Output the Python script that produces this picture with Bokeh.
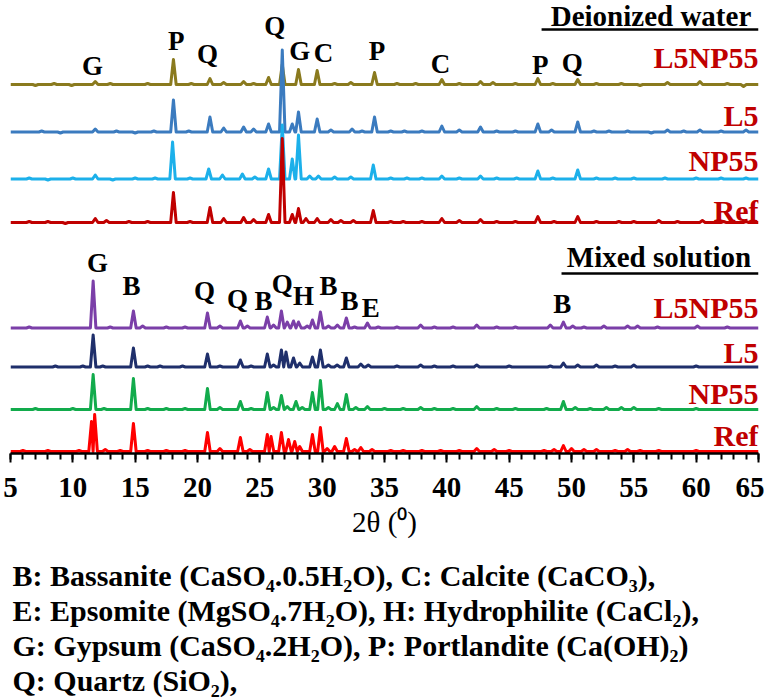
from bokeh.plotting import figure
from bokeh.models import Range1d, SingleIntervalTicker, Title
from bokeh.embed import file_html
from bokeh.resources import INLINE
from bokeh.core.properties import value

# ---------------- data (2θ in degrees, relative intensity in a.u.) ----------------
two_theta_ticks = [5, 10, 15, 20, 25, 30, 35, 40, 45, 50, 55, 60, 65]

# Deionized water
dw_L5NP55 = [(7.0, -1), (8.5, 1), (9.9, -1), (11.8, 3), (13.0, 1), (16.0, 1), (18.07, 25), (19.5, 1),
             (21.0, 6), (22.1, 2), (23.7, 3), (24.5, 1), (25.7, 7), (26.8, 20), (28.1, 15), (29.6, 14),
             (31.0, 1), (32.3, 2), (34.2, 12), (36.0, 1), (37.5, 1), (39.6, 5), (41.0, 1), (42.7, 3),
             (43.7, 2), (45.5, 1), (47.3, 6), (48.5, 1), (50.5, 5), (52.0, 1), (54.0, 1), (55.5, -1),
             (57.7, 2), (60.3, 3), (62.5, 1), (63.8, -2)]
dw_L5 = [(7.5, 1), (9.0, -1), (11.8, 3), (13.5, 1), (15.0, -1), (16.5, 1), (18.07, 32), (19.3, 1),
         (21.0, 15), (22.1, 4), (23.7, 5), (24.5, 3), (25.7, 8), (26.8, 82), (27.6, 8), (28.1, 20),
         (29.6, 13), (30.7, 2), (32.4, 3), (33.2, 1), (34.2, 15), (35.5, 1), (36.6, 1), (38.0, 1),
         (39.6, 6), (41.0, 2), (42.7, 5), (44.0, 1), (45.5, 1), (47.3, 8), (48.4, 2), (50.5, 10),
         (51.8, 1), (53.0, 1), (54.5, 1), (56.4, -1), (57.7, 2), (59.0, 1), (60.3, 2), (62.0, 1), (64.0, 2)]
dw_NP55 = [(6.5, 1), (8.0, -1), (10.0, 1), (11.8, 4), (13.2, -1), (15.0, 1), (16.6, 1), (18.0, 37),
           (19.4, 1), (20.9, 10), (22.0, 4), (23.6, 5), (24.6, 2), (25.7, 10), (26.8, 54), (27.6, 20),
           (28.1, 44), (29.0, 3), (29.7, 3), (31.0, 2), (32.3, 2), (34.1, 14), (35.5, 1), (36.8, 1),
           (38.0, 1), (39.6, 3), (41.0, 1), (42.7, 3), (44.0, 1), (45.6, 1), (47.3, 8), (48.5, 1),
           (50.5, 9), (52.0, 1), (53.5, 1), (55.0, 1), (57.5, 1), (60.0, 1), (62.0, 1), (64.0, 1)]
dw_Ref = [(6.5, 1), (8.0, 1), (9.4, -1), (11.8, 4), (12.7, 2), (14.5, 1), (16.0, 1), (18.07, 30),
          (19.4, 1), (21.0, 15), (22.1, 4), (23.7, 5), (24.5, 3), (25.7, 8), (26.8, 84), (27.6, 8),
          (28.1, 14), (28.7, 4), (29.6, 4), (30.7, 3), (31.5, 2), (32.5, 2), (34.1, 12), (35.5, 1),
          (36.5, 1), (38.0, 1), (39.6, 4), (41.0, 2), (42.7, 3), (44.0, 1), (45.5, 1), (47.3, 6),
          (48.6, 1), (50.5, 6), (52.0, 1), (53.8, 1), (55.0, 1), (57.0, 2), (58.5, 1), (60.5, 2),
          (62.2, 1), (64.0, 1)]

# Mixed solution
ms_L5NP55 = [(6.5, 1), (11.63, 47), (13.0, 1), (14.86, 17), (15.6, 2), (17.5, 1), (19.0, 1), (20.8, 15),
             (21.8, 2), (23.44, 7), (24.0, 2), (25.6, 11), (26.1, 3), (26.73, 17), (27.2, 6), (27.7, 7),
             (28.1, 6), (28.8, 2), (29.22, 8), (29.86, 16), (30.5, 2), (31.22, 3), (31.94, 10), (32.6, 1),
             (33.63, 5), (34.5, 1), (36.0, 1), (37.9, 3), (39.0, 1), (40.5, 1), (42.4, 3), (44.0, 1),
             (45.5, 1), (48.3, 3), (49.35, 6), (50.1, 2), (51.0, 1), (52.6, 2), (54.5, 2), (55.3, 2),
             (56.9, 1), (60.1, 2), (62.5, 1)]
ms_L5 = [(8.6, 1), (10.8, 1), (11.63, 32), (12.4, 1), (14.86, 19), (16.0, 1), (17.0, 1), (18.8, 1),
         (20.8, 13), (21.8, 1), (23.44, 7), (24.3, 1), (25.6, 13), (26.1, 2), (26.73, 17), (27.1, 15),
         (27.7, 9), (28.2, 4), (29.22, 10), (29.86, 17), (30.5, 2), (31.2, 2), (31.94, 9), (33.1, 3),
         (33.7, 2), (36.0, 1), (37.9, 2), (39.0, 1), (40.5, 1), (42.4, 2), (45.0, 1), (48.3, 1),
         (49.35, 4), (50.5, 2), (52.0, 2), (53.5, 1), (55.0, 2), (60.0, 1)]
ms_NP55 = [(7.0, 1), (10.0, 1), (11.63, 35), (12.5, 1), (14.86, 31), (16.0, 1), (17.5, 1), (19.0, 1),
           (20.8, 21), (21.8, 2), (23.44, 8), (24.3, 1), (25.6, 17), (26.1, 2), (26.73, 14), (27.2, 3),
           (27.9, 8), (28.4, 2), (29.22, 17), (29.86, 29), (30.5, 2), (31.22, 6), (31.94, 15), (32.7, 2),
           (33.63, 3), (35.0, 1), (36.5, 1), (37.9, 2), (39.0, 1), (40.5, 1), (42.4, 3), (44.0, 1),
           (45.5, 1), (48.0, 1), (49.35, 8), (50.3, 2), (51.5, 1), (52.8, 2), (54.0, 2), (55.0, 2),
           (57.0, 1), (60.0, 1)]
ms_Ref = [(6.0, 1), (8.0, 1), (10.5, 1), (11.5, 30), (11.75, 37), (12.6, 2), (13.8, 1), (14.86, 28),
          (16.0, 1), (17.5, 1), (19.0, 1), (20.8, 19), (21.8, 3), (23.44, 14), (24.2, 2), (25.6, 17),
          (25.9, 15), (26.73, 19), (27.3, 12), (27.8, 10), (28.2, 5), (29.22, 17), (29.86, 24), (30.4, 3),
          (31.0, 5), (31.94, 13), (32.6, 2), (33.1, 4), (34.0, 2), (35.5, 1), (36.5, 1), (38.0, 1),
          (39.5, 1), (41.0, 1), (42.4, 3), (43.8, 2), (45.0, 1), (47.8, 1), (48.6, 2), (49.35, 6),
          (50.0, 3), (51.0, 2), (52.0, 2), (53.5, 1), (54.5, 2), (55.5, 1), (57.0, 1), (60.0, 1)]

sample_names = ["L5NP55", "L5", "NP55", "Ref"]

# phase labels: text, 2θ position, height (a.u.)
dw_phase_text = ["G", "P", "Q", "Q", "G", "C", "P", "C", "P", "Q"]
dw_phase_x = [11.58, 18.3, 20.8, 26.2, 28.2, 30.1, 34.4, 39.5, 47.5, 50.07]
dw_phase_y = [378, 403, 390, 418, 393, 391, 393, 380, 379, 381]
ms_phase_text = ["G", "B", "Q", "Q", "B", "Q", "H", "B", "B", "E", "B"]
ms_phase_x = [11.98, 14.7, 20.56, 23.2, 25.3, 26.8, 28.5, 30.5, 32.2, 33.9, 49.26]
ms_phase_y = [181, 158, 153, 145, 143, 160, 148, 158, 143, 136, 140]

legend_lines = [
    "B: Bassanite (CaSO\u2084.0.5H\u2082O), C: Calcite (CaCO\u2083),",
    "E: Epsomite (MgSO\u2084.7H\u2082O), H: Hydrophilite (CaCl\u2082),",
    "G: Gypsum (CaSO\u2084.2H\u2082O), P: Portlandite (Ca(OH)\u2082)",
    "Q: Quartz (SiO\u2082),",
]

# ---------------- styles / layout ----------------
dw_offsets = [369, 321.5, 274.5, 231]
ms_offsets = [125.5, 86.5, 44, 2]
dw_colors = ["#8a7a1e", "#3b7bbf", "#1cb0ea", "#c00000"]
ms_colors = ["#7b3fa8", "#1f2f6b", "#12ab4c", "#ff0000"]
dw_name_y = [386, 328, 283, 233]
ms_name_y = [136, 91, 50, 8]
TXT_SHIFT = 10          # renderer places the alphabetic baseline ~10 px low
FONT = "Liberation Serif"
NAME_RED = "#c00000"


def profile(peaks, hw=0.22, lo=5.0, hi=65.0):
    xs, ys = [lo], [0.0]
    pos = [p for p, _ in peaks]
    for i, (p, h) in enumerate(peaks):
        prev = pos[i - 1] if i > 0 else lo
        nxt = pos[i + 1] if i < len(pos) - 1 else hi
        xs += [p - min(hw, (p - prev) / 2), p, p + min(hw, (nxt - p) / 2)]
        ys += [0.0, h, 0.0]
    xs.append(hi)
    ys.append(0.0)
    return xs, ys


def up(vals, d=TXT_SHIFT):
    return [v + d for v in vals]


p = figure(width=764, height=698, x_range=Range1d(5, 65), y_range=Range1d(0, 453),
           output_backend="svg", toolbar_location=None,
           min_border_left=10, min_border_right=6, min_border_top=0, min_border_bottom=245)
p.yaxis.visible = False
p.grid.visible = False
p.outline_line_color = None
p.background_fill_color = "white"

dw_series = [dw_L5NP55, dw_L5, dw_NP55, dw_Ref]
ms_series = [ms_L5NP55, ms_L5, ms_NP55, ms_Ref]
for series, offsets, colors in [(dw_series, dw_offsets, dw_colors), (ms_series, ms_offsets, ms_colors)]:
    for peaks, off, col in zip(series, offsets, colors):
        xs, ys = profile(peaks)
        p.line(xs, [off + y for y in ys], line_color=col, line_width=3, line_join="round")

# sample names
for names_y in (dw_name_y, ms_name_y):
    p.text(x=[65.0] * 4, y=up(names_y), text=sample_names, text_align="right", text_baseline="alphabetic",
           text_font=value(FONT), text_font_style="bold", text_font_size="30px", text_color=NAME_RED)

# phase letters
p.text(x=dw_phase_x, y=up(dw_phase_y), text=dw_phase_text, text_align="center", text_baseline="alphabetic",
       text_font=value(FONT), text_font_style="bold", text_font_size="27px", text_color="black")
p.text(x=ms_phase_x, y=up(ms_phase_y), text=ms_phase_text, text_align="center", text_baseline="alphabetic",
       text_font=value(FONT), text_font_style="bold", text_font_size="27px", text_color="black")

# section headers (underlined)
p.text(x=[65.0, 65.0], y=[438, 197], text=["Deionized  water", "Mixed  solution"], text_align="right",
       text_baseline="alphabetic", text_font=value(FONT), text_font_style="bold",
       text_font_size="29px", text_color="black")
p.segment(x0=[47.6, 49.2], y0=[424, 180], x1=[65.0, 65.0], y1=[424, 180], line_color="black", line_width=2.5)

# x axis
ax = p.xaxis[0]
ax.ticker = SingleIntervalTicker(interval=5, num_minor_ticks=5)
ax.axis_line_width = 2.5
ax.axis_line_color = "black"
ax.major_tick_line_width = 2
ax.minor_tick_line_width = 2
ax.major_tick_in = 0
ax.major_tick_out = 9
ax.minor_tick_in = 0
ax.minor_tick_out = 6
ax.major_label_text_font = FONT
ax.major_label_text_font_style = "bold"
ax.major_label_text_font_size = "29px"
ax.major_label_text_color = "black"
ax.major_label_standoff = 15
ax.axis_label = "2\u03b8 (\u2070)"
ax.axis_label_text_font = FONT
ax.axis_label_text_font_style = "normal"
ax.axis_label_text_font_size = "29px"
ax.axis_label_text_color = "black"
ax.axis_label_standoff = 6

# legend lines beneath the axis, as stacked titles (first one is a small spacer)
p.add_layout(Title(text=" ", text_font_size="12px", standoff=0), "below")
for txt in legend_lines:
    p.add_layout(Title(text=txt, align="left", offset=2, standoff=0,
                       text_font=FONT, text_font_style="bold", text_font_size="30px",
                       text_color="black"), "below")

open("out.html", "w").write(file_html(p, INLINE))
